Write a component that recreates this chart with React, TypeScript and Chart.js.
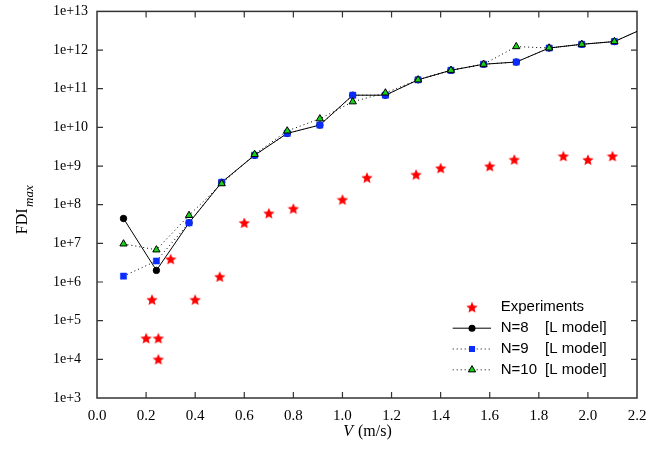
import React, { useEffect, useRef } from 'react';
import { Chart, registerables } from 'chart.js';

Chart.register(...registerables);

// ---- data ----
const modelV = [0.108, 0.242, 0.375, 0.508, 0.642, 0.775, 0.908, 1.042, 1.175, 1.308, 1.442, 1.575, 1.708, 1.842, 1.975, 2.108, 2.242];
const fdiN8 = [4.4e7, 2.0e6, 3.4e7, 3.8e8, 1.9e9, 7.0e9, 1.15e10, 6.8e10, 6.8e10, 1.7e11, 3.0e11, 4.3e11, 4.9e11, 1.13e12, 1.41e12, 1.66e12, 4.0e12];
const fdiN9 = [1.42e6, 3.5e6, 3.4e7, 3.8e8, 1.9e9, 7.0e9, 1.15e10, 6.8e10, 6.8e10, 1.7e11, 3.0e11, 4.3e11, 4.9e11, 1.13e12, 1.41e12, 1.66e12, 4.0e12];
const fdiN10 = [9.7e6, 6.8e6, 5.3e7, 3.5e8, 2.0e9, 8.1e9, 1.67e10, 4.6e10, 7.8e10, 1.7e11, 3.0e11, 4.3e11, 1.23e12, 1.13e12, 1.41e12, 1.66e12, 4.0e12];
const expV = [0.2, 0.224, 0.25, 0.25, 0.3, 0.4, 0.5, 0.6, 0.7, 0.8, 1.0, 1.1, 1.3, 1.4, 1.6, 1.7, 1.9, 2.0, 2.1];
const expFDI = [3.5e4, 3.5e5, 3.5e4, 1.0e4, 3.9e6, 3.5e5, 1.37e6, 3.4e7, 6.0e7, 7.9e7, 1.35e8, 5.0e8, 6.0e8, 8.8e8, 9.9e8, 1.47e9, 1.8e9, 1.45e9, 1.8e9];
const xTickValues = [0, 0.2, 0.4, 0.6, 0.8, 1.0, 1.2, 1.4, 1.6, 1.8, 2.0, 2.2];
const yTickExponents = [3, 4, 5, 6, 7, 8, 9, 10, 11, 12, 13];
const legendNames = ['Experiments', 'N=8', 'N=9', 'N=10'];
const legendSuffix = '[L model]';
const xMin = 0;
const xMax = 2.2;

const RED = '#ff0000';
const BLUE = '#0a2cff';
const GREEN = '#14d214';

function makeStar(size: number, color: string): HTMLCanvasElement {
  const c = document.createElement('canvas');
  c.width = size;
  c.height = size;
  const ctx = c.getContext('2d')!;
  const cx = size / 2, cy = size / 2 + 0.5, R = size / 2, r = R * 0.45;
  ctx.beginPath();
  for (let i = 0; i < 10; i++) {
    const ang = -Math.PI / 2 + (i * Math.PI) / 5;
    const rad = i % 2 === 0 ? R : r;
    ctx.lineTo(cx + rad * Math.cos(ang), cy + rad * Math.sin(ang));
  }
  ctx.closePath();
  ctx.fillStyle = color;
  ctx.fill();
  return c;
}

function drawMarker(ctx: CanvasRenderingContext2D, kind: string, x: number, y: number) {
  ctx.save();
  ctx.setLineDash([]);
  if (kind === 'circle') {
    ctx.beginPath();
    ctx.arc(x, y, 3.5, 0, Math.PI * 2);
    ctx.fillStyle = '#000';
    ctx.fill();
  } else if (kind === 'rect') {
    ctx.fillStyle = BLUE;
    ctx.fillRect(x - 3, y - 3, 6, 6);
  } else if (kind === 'triangle') {
    const r = 4.2;
    ctx.beginPath();
    for (let i = 0; i < 3; i++) {
      const a = (i * 2 * Math.PI) / 3;
      ctx.lineTo(x + Math.sin(a) * r, y - Math.cos(a) * r);
    }
    ctx.closePath();
    ctx.fillStyle = GREEN;
    ctx.fill();
    ctx.lineWidth = 1;
    ctx.strokeStyle = '#000';
    ctx.stroke();
  }
  ctx.restore();
}

export default function App() {
  const ref = useRef<HTMLCanvasElement | null>(null);

  useEffect(() => {
    const canvas = ref.current;
    if (!canvas) return;
    const star = makeStar(12, RED);

    const framePlugin = {
      id: 'framePlugin',
      beforeDatasetsDraw(chart: any) {
        const { ctx, chartArea: a, scales } = chart;
        ctx.save();
        ctx.strokeStyle = '#333';
        ctx.lineWidth = 1.5;
        ctx.strokeRect(a.left, a.top, a.right - a.left, a.bottom - a.top);
        ctx.lineWidth = 1.2;
        ctx.beginPath();
        scales.x.ticks.forEach((t: any) => {
          const px = scales.x.getPixelForValue(t.value);
          if (px <= a.left + 1 || px >= a.right - 1) return;
          ctx.moveTo(px, a.bottom);
          ctx.lineTo(px, a.bottom - 6);
          ctx.moveTo(px, a.top);
          ctx.lineTo(px, a.top + 6);
        });
        scales.y.ticks.forEach((t: any) => {
          const py = scales.y.getPixelForValue(t.value);
          if (py <= a.top + 1 || py >= a.bottom - 1) return;
          ctx.moveTo(a.left, py);
          ctx.lineTo(a.left + 6, py);
          ctx.moveTo(a.right, py);
          ctx.lineTo(a.right - 6, py);
        });
        ctx.stroke();
        ctx.restore();
      },
      afterDraw(chart: any) {
        const { ctx, chartArea: a } = chart;
        ctx.save();
        // ---- legend ----
        const rowY = [307.3, 328.2, 349, 369.8];
        const lineX0 = 452.7, lineX1 = 491, markX = 472, textX = 500.7, suffixX = 545;
        ctx.font = '15px "Liberation Sans", Arial, sans-serif';
        ctx.fillStyle = '#000';
        ctx.textBaseline = 'middle';
        ctx.textAlign = 'left';
        ctx.drawImage(star, markX - star.width / 2, rowY[0] - star.height / 2);
        ctx.fillText(legendNames[0], textX, rowY[0]);
        const kinds = ['circle', 'rect', 'triangle'];
        for (let i = 1; i < 4; i++) {
          const y = rowY[i];
          ctx.beginPath();
          ctx.strokeStyle = '#000';
          ctx.lineWidth = 1;
          ctx.setLineDash(i === 1 ? [] : [1, 3]);
          ctx.moveTo(lineX0, y);
          ctx.lineTo(lineX1, y);
          ctx.stroke();
          ctx.setLineDash([]);
          drawMarker(ctx, kinds[i - 1], markX, y);
          ctx.fillStyle = '#000';
          ctx.fillText(legendNames[i], textX, y);
          ctx.fillText(legendSuffix, suffixX, y);
        }
        // ---- x title ----
        const cx = (a.left + a.right) / 2;
        const itFont = 'italic 16px "Liberation Serif", "Times New Roman", serif';
        const rgFont = '16px "Liberation Serif", "Times New Roman", serif';
        const subFont = 'italic 13px "Liberation Serif", "Times New Roman", serif';
        ctx.textBaseline = 'alphabetic';
        ctx.font = itFont;
        const wV = ctx.measureText('V').width;
        ctx.font = rgFont;
        const wRest = ctx.measureText(' (m/s)').width;
        const x0 = cx - (wV + wRest) / 2;
        ctx.font = itFont;
        ctx.fillText('V', x0, 436);
        ctx.font = rgFont;
        ctx.fillText(' (m/s)', x0 + wV + 1, 436);
        // ---- y title ----
        ctx.translate(21, (a.top + a.bottom) / 2 + 3.5);
        ctx.rotate(-Math.PI / 2);
        ctx.font = rgFont;
        const wF = ctx.measureText('FDI').width;
        const sx = -26;
        ctx.fillText('FDI', sx, 5.5);
        ctx.font = subFont;
        ctx.fillText('max', sx + wF + 1.5, 11.5);
        ctx.restore();
      },
    };

    const toPts = (xs: number[], ys: number[]) => xs.map((x, i) => ({ x, y: ys[i] }));
    const modelRadius = (r: number) => modelV.map((v) => (v > xMax ? 0 : r));

    const chart = new Chart(canvas, {
      type: 'line',
      data: {
        datasets: [
          {
            label: legendNames[0],
            data: toPts(expV, expFDI),
            showLine: false,
            pointStyle: star as any,
            pointRadius: 5,
            backgroundColor: RED,
            borderColor: RED,
          },
          {
            label: legendNames[3],
            data: toPts(modelV, fdiN10),
            borderColor: '#000',
            borderWidth: 1,
            borderDash: [1, 3],
            pointStyle: 'triangle',
            pointRadius: modelRadius(4.2),
            pointBackgroundColor: GREEN,
            pointBorderColor: '#000',
            pointBorderWidth: 1,
            clip: 0,
          } as any,
          {
            label: legendNames[2],
            data: toPts(modelV, fdiN9),
            borderColor: '#000',
            borderWidth: 1,
            borderDash: [1, 3],
            pointStyle: 'rect',
            pointRadius: modelRadius(4.4),
            pointBackgroundColor: BLUE,
            pointBorderColor: BLUE,
            pointBorderWidth: 0.5,
            clip: 0,
          } as any,
          {
            label: legendNames[1],
            data: toPts(modelV, fdiN8),
            borderColor: '#000',
            borderWidth: 1,
            pointStyle: 'circle',
            pointRadius: modelRadius(3.2),
            pointBackgroundColor: '#000',
            pointBorderColor: '#000',
            pointBorderWidth: 1,
            clip: 0,
          } as any,
        ],
      },
      options: {
        animation: false,
        responsive: false,
        devicePixelRatio: 1,
        color: '#000',
        layout: { padding: { left: 53, right: 26, top: 10, bottom: 0 } },
        plugins: { legend: { display: false }, tooltip: { enabled: false } },
        events: [],
        scales: {
          x: {
            type: 'linear',
            min: xMin,
            max: xMax,
            grid: { display: false, drawTicks: false },
            border: { display: false },
            afterBuildTicks: (s: any) => {
              s.ticks = xTickValues.map((v) => ({ value: v }));
            },
            afterFit: (s: any) => {
              s.height = 65;
            },
            ticks: {
              color: '#000',
              padding: 9,
              maxRotation: 0,
              autoSkip: false,
              font: { family: '"Liberation Serif", "Times New Roman", serif', size: 15 },
              callback: (v: any) => Number(v).toFixed(1),
            },
          },
          y: {
            type: 'logarithmic',
            min: Math.pow(10, yTickExponents[0]),
            max: Math.pow(10, yTickExponents[yTickExponents.length - 1]),
            grid: { display: false, drawTicks: false },
            border: { display: false },
            afterBuildTicks: (s: any) => {
              s.ticks = yTickExponents.map((e) => ({ value: Math.pow(10, e) }));
            },
            afterFit: (s: any) => {
              s.width = 44;
            },
            ticks: {
              color: '#000',
              crossAlign: 'far',
              autoSkip: false,
              font: { family: '"Liberation Serif", "Times New Roman", serif', size: 14 },
              callback: (v: any) => '1e+' + Math.round(Math.log10(Number(v))),
            },
          },
        },
      },
      plugins: [framePlugin],
    } as any);

    return () => chart.destroy();
  }, []);

  return (
    <div style={{ position: 'fixed', left: 0, top: 0, width: 663, height: 463, background: '#fff' }}>
      <canvas ref={ref} width={663} height={463} style={{ width: 663, height: 463, display: 'block' }} />
    </div>
  );
}
